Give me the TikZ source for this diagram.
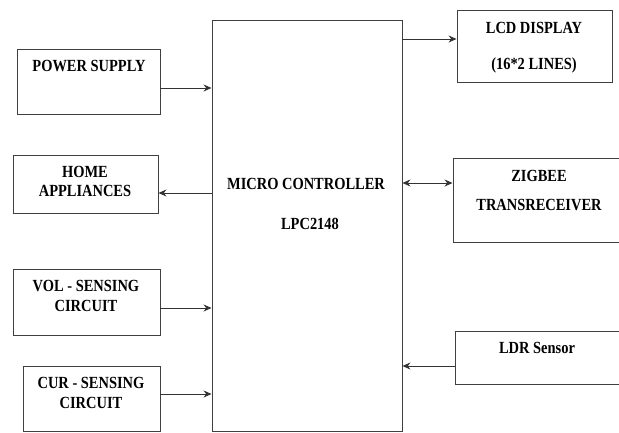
\documentclass[tikz,border=0pt]{standalone}
\usepackage{fontspec}
\setmainfont{Liberation Serif}[FakeStretch=0.85]
\usetikzlibrary{arrows.meta}
\begin{document}
\begin{tikzpicture}[x=1pt,y=-1pt,
  blk/.style={draw=black!75, line width=0.9pt, inner sep=0pt, anchor=center},
  lbl/.style={inner sep=0pt, anchor=center, font=\fontsize{17}{19}\selectfont\bfseries},
  arr/.style={draw=black!80, line width=1pt, -{Stealth[length=8pt,width=7pt]}},
  darr/.style={draw=black!80, line width=1pt, {Stealth[length=8pt,width=7pt]}-{Stealth[length=8pt,width=7pt]}}]
\useasboundingbox (0,0) rectangle (619,432);
% boxes
\node[blk, minimum width=143pt, minimum height=65pt] (ps) at (88.5,81.5) {};
\node[blk, minimum width=145pt, minimum height=58pt] (ha) at (85.5,184) {};
\node[blk, minimum width=147pt, minimum height=66pt] (vs) at (86.5,302) {};
\node[blk, minimum width=137pt, minimum height=65pt] (cs) at (91.5,398.5) {};
\node[blk, minimum width=190pt, minimum height=411pt] (mc) at (307,225.5) {};
\node[blk, minimum width=155pt, minimum height=72pt] (lcd) at (534.5,46) {};
\node[blk, minimum width=172pt, minimum height=84pt] (zb) at (539,200) {};
\node[blk, minimum width=170pt, minimum height=53pt] (ldr) at (540,357.5) {};
% texts
\node[lbl] (tps) at (89,66) {POWER SUPPLY};
\node[lbl] (tha1) at (85,172) {HOME};
\node[lbl] (tha2) at (85,191) {APPLIANCES};
\node[lbl] (tvs1) at (86,286) {VOL - SENSING};
\node[lbl] (tvs2) at (86,306) {CIRCUIT};
\node[lbl] (tcs1) at (91,383) {CUR - SENSING};
\node[lbl] (tcs2) at (91,403) {CIRCUIT};
\node[lbl] (tmc1) at (306,184) {MICRO CONTROLLER};
\node[lbl] (tmc2) at (310,224) {LPC2148};
\node[lbl] (tlcd1) at (534,28) {LCD DISPLAY};
\node[lbl] (tlcd2) at (534,65) {(16*2 LINES)};
\node[lbl] (tzb1) at (539,176) {ZIGBEE};
\node[lbl] (tzb2) at (539,205) {TRANSRECEIVER};
\node[lbl] (tldr) at (537,348) {LDR Sensor};
% connectors
\draw[arr] (ps.east |- 0,88) -- (mc.west |- 0,88);
\draw[arr] (mc.west |- 0,193) -- (ha.east |- 0,193);
\draw[arr] (vs.east |- 0,308) -- (mc.west |- 0,308);
\draw[arr] (cs.east |- 0,394) -- (mc.west |- 0,394);
\draw[arr] (mc.east |- 0,39) -- (lcd.west |- 0,39);
\draw[darr] (mc.east |- 0,183) -- (zb.west |- 0,183);
\draw[arr] (ldr.west |- 0,366) -- (mc.east |- 0,366);
\end{tikzpicture}
\end{document}
